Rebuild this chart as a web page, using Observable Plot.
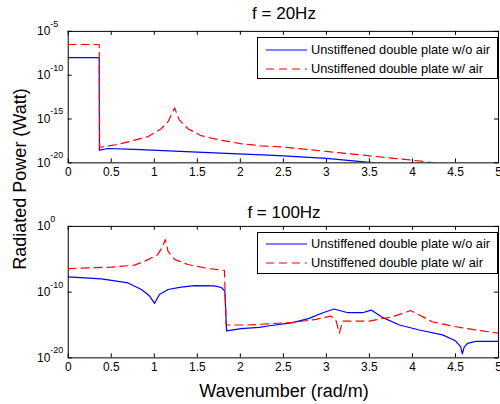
<!DOCTYPE html>
<html>
<head>
<meta charset="utf-8">
<script src="https://cdn.jsdelivr.net/npm/d3@7"></script>
<script src="https://cdn.jsdelivr.net/npm/@observablehq/plot@0.6"></script>
<style>
  html, body { margin: 0; padding: 0; background: #fff; }
  #wrap { position: relative; width: 500px; height: 404px; overflow: hidden; background: #fff;
          font-family: "Liberation Sans", Arial, sans-serif; color: #000; }
  .abs { position: absolute; }
  .title { font-size: 17px; white-space: nowrap; transform: translate(-50%, -50%); }
  .legend { position: absolute; border: 1px solid #000; background: #fff; box-sizing: border-box; }
  .legend .row { position: absolute; left: 0; height: 16px; width: 100%; }
  .legend .row span { position: absolute; left: 53px; top: 0; line-height: 16px; font-size: 12.8px; white-space: nowrap; }
  .legend .row svg { position: absolute; left: 8px; top: 0; }
</style>
</head>
<body>
<div id="wrap"></div>
<script>
// ---------- data (log10 of radiated power) ----------
const titles = ["f = 20Hz", "f = 100Hz"];
const seriesNames = ["Unstiffened double plate w/o air", "Unstiffened double plate w/ air"];
const xTicks = [0, 0.5, 1, 1.5, 2, 2.5, 3, 3.5, 4, 4.5, 5];
const yTicksTop = [1e-5, 1e-10, 1e-15, 1e-20];
const yExpTop = ["-5", "-10", "-15", "-20"];
const yTicksBottom = [1e0, 1e-10, 1e-20];
const yExpBottom = ["0", "-10", "-20"];

// f = 20 Hz
const kBlue20 = [0, 0.36, 0.362, 0.46, 0.77, 1.24, 1.7, 2.32, 2.5, 3.0, 3.5, 3.7];
const logBlue20 = [-8.0, -8.0, -18.55, -18.36, -18.47, -18.67, -18.86, -19.12, -19.2, -19.5, -19.95, -20.1];
const kRed20 = [0, 0.36, 0.365, 0.405, 0.58, 0.93, 1.08, 1.16, 1.236, 1.29, 1.39, 1.545, 1.74, 2.0, 2.24, 2.5, 3.0, 3.5, 4.0, 4.3];
const logRed20 = [-6.5, -6.5, -18.2, -18.17, -17.9, -17.0, -16.1, -15.3, -13.73, -15.1, -16.1, -16.9, -17.35, -17.8, -18.06, -18.2, -18.7, -19.2, -19.7, -20.05];

// f = 100 Hz
const kBlue100 = [0, 0.386, 0.695, 0.85, 0.946, 1.004, 1.06, 1.16, 1.31, 1.47, 1.70, 1.78, 1.82, 1.84, 2.01, 2.22, 2.32, 2.61, 2.80, 2.96, 3.09, 3.25, 3.42, 3.52, 3.65, 3.85, 4.08, 4.35, 4.50, 4.56, 4.58, 4.60, 4.64, 4.735, 5.0];
const logBlue100 = [-7.68, -7.98, -8.6, -9.6, -10.6, -11.7, -10.35, -9.6, -9.25, -9.0, -9.04, -9.3, -9.85, -15.9, -15.55, -15.35, -15.15, -14.65, -13.99, -13.13, -12.57, -13.13, -13.13, -12.73, -13.84, -15.0, -15.76, -16.5, -17.4, -18.3, -19.4, -18.4, -17.8, -17.5, -17.5];
const kRed100 = [0, 0.5, 0.77, 0.89, 1.04, 1.10, 1.128, 1.16, 1.24, 1.39, 1.62, 1.815, 1.835, 2.09, 2.22, 2.61, 2.88, 3.05, 3.11, 3.15, 3.19, 3.50, 3.77, 3.98, 4.08, 4.23, 4.46, 4.735, 5.0];
const logRed100 = [-6.41, -6.2, -5.9, -5.3, -4.3, -3.0, -2.0, -3.8, -5.05, -5.8, -6.4, -6.7, -15.0, -15.0, -14.9, -14.6, -14.14, -13.64, -14.24, -16.25, -14.4, -14.4, -13.74, -12.8, -13.48, -14.5, -15.15, -15.76, -16.25];

const toRows = (ks, logs) => ks.map((k, i) => ({k, p: Math.pow(10, logs[i])}));

const BLUE = "#0000ff", RED = "#ff0000", DASH = "8,5";

function panel({blue, red, yDomain, yTicks, yExp, height, marginTop, marginBottom}) {
  const innerH = height - marginTop - marginBottom;
  const innerW = 432;
  const tick = 4;
  return Plot.plot({
    width: 502, height,
    marginLeft: 68, marginRight: 2, marginTop, marginBottom,
    style: {fontFamily: "'Liberation Sans', Arial, sans-serif", fontSize: "12px", color: "#000", background: "transparent"},
    x: {domain: [0, 5]},
    y: {type: "log", domain: yDomain, axis: null},
    marks: [
      Plot.line(blue, {x: "k", y: "p", stroke: BLUE, strokeWidth: 1.2, clip: true}),
      Plot.line(red, {x: "k", y: "p", stroke: RED, strokeWidth: 1.2, strokeDasharray: DASH, clip: true}),
      Plot.tickX(xTicks, {x: d => d, insetTop: innerH - tick, stroke: "#000"}),
      Plot.tickX(xTicks, {x: d => d, insetBottom: innerH - tick, stroke: "#000"}),
      Plot.tickY(yTicks, {y: d => d, insetRight: innerW - tick, stroke: "#000"}),
      Plot.tickY(yTicks, {y: d => d, insetLeft: innerW - tick, stroke: "#000"}),
      Plot.axisX({ticks: xTicks, tickSize: 0, tickPadding: 5, tickFormat: d => String(d), fontSize: 12, label: null}),
      Plot.text(yTicks, {y: d => d, frameAnchor: "left", text: () => "10", textAnchor: "end", dx: -18, fontSize: 12}),
      Plot.text(yTicks, {y: d => d, frameAnchor: "left", text: (d, i) => yExp[i], textAnchor: "start", dx: -18, dy: -7.5, fontSize: 9}),
      Plot.frame({stroke: "#000", strokeWidth: 1})
    ]
  });
}

const wrap = document.getElementById("wrap");

const topChart = panel({
  blue: toRows(kBlue20, logBlue20), red: toRows(kRed20, logRed20),
  yDomain: [1e-20, 1e-5], yTicks: yTicksTop, yExp: yExpTop,
  height: 200, marginTop: 31, marginBottom: 37
});
topChart.style.position = "absolute"; topChart.style.left = "0px"; topChart.style.top = "0px";
wrap.appendChild(topChart);

const bottomChart = panel({
  blue: toRows(kBlue100, logBlue100), red: toRows(kRed100, logRed100),
  yDomain: [1e-20, 1e0], yTicks: yTicksBottom, yExp: yExpBottom,
  height: 180, marginTop: 26, marginBottom: 22
});
bottomChart.style.position = "absolute"; bottomChart.style.left = "0px"; bottomChart.style.top = "200px";
wrap.appendChild(bottomChart);

function addText(txt, x, y, cls, extra) {
  const d = document.createElement("div");
  d.className = "abs " + cls;
  d.textContent = txt;
  d.style.left = x + "px"; d.style.top = y + "px";
  if (extra) Object.assign(d.style, extra);
  wrap.appendChild(d);
  return d;
}
addText(titles[0], 284, 14, "title");
addText(titles[1], 284, 213, "title");
addText("Wavenumber (rad/m)", 284, 391, "title", {fontSize: "18px"});
addText("Radiated Power (Watt)", 20, 179, "title", {fontSize: "18px", transform: "translate(-50%, -50%) rotate(-90deg)"});

function legend(left, topPx, w, h, rowYs) {
  const box = document.createElement("div");
  box.className = "legend";
  Object.assign(box.style, {left: left + "px", top: topPx + "px", width: w + "px", height: h + "px"});
  const styles = [{stroke: BLUE, dash: ""}, {stroke: RED, dash: DASH}];
  seriesNames.forEach((name, i) => {
    const row = document.createElement("div");
    row.className = "row";
    row.style.top = (rowYs[i] - 8) + "px";
    row.innerHTML = `<svg width="42" height="16"><line x1="0" x2="41" y1="8" y2="8" stroke="${styles[i].stroke}" stroke-width="1.2" stroke-dasharray="${styles[i].dash}"/></svg><span></span>`;
    row.querySelector("span").textContent = name;
    box.appendChild(row);
  });
  wrap.appendChild(box);
}
legend(257, 37, 241, 42, [12, 31]);
legend(257, 232, 241, 42, [11, 30]);
</script>
</body>
</html>
